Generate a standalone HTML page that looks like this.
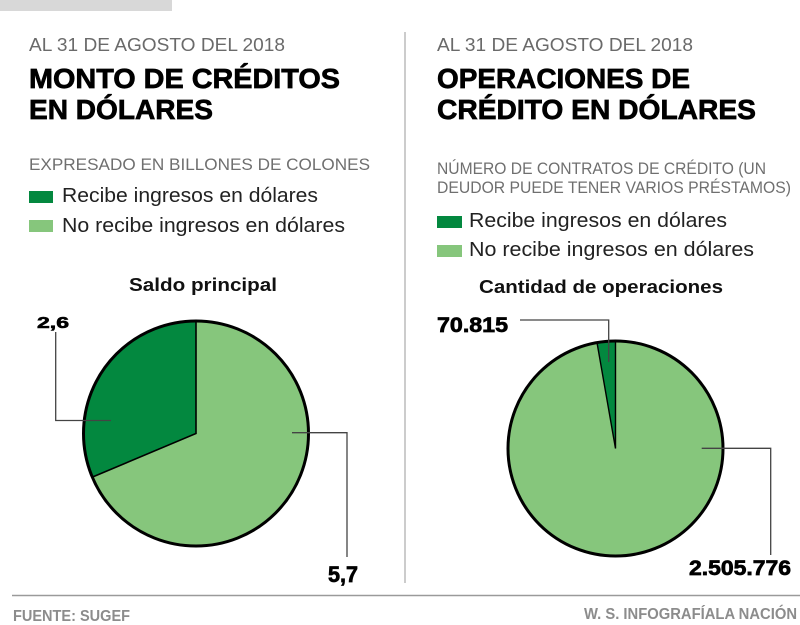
<!DOCTYPE html>
<html>
<head>
<meta charset="utf-8">
<style>
  html,body{margin:0;padding:0;background:#fff;}
  svg{display:block;}
  text{font-family:"Liberation Sans",sans-serif;}
</style>
</head>
<body>
<svg width="800" height="625" viewBox="0 0 800 625" xmlns="http://www.w3.org/2000/svg">
  <rect x="0" y="0" width="800" height="625" fill="#ffffff"/>
  <!-- top gray bar -->
  <rect x="0" y="0" width="172" height="11" fill="#d8d8d8"/>
  <!-- vertical separator -->
  <line x1="405" y1="32" x2="405" y2="583" stroke="#cccccc" stroke-width="2"/>
  <!-- footer line -->
  <line x1="12" y1="595.5" x2="800" y2="595.5" stroke="#9a9a9a" stroke-width="1.5"/>

  <!-- LEFT HEADER -->
  <text x="29" y="51" font-size="18.5" fill="#6a6a6a" textLength="256" lengthAdjust="spacingAndGlyphs">AL 31 DE AGOSTO DEL 2018</text>
  <text x="29" y="88" font-size="28" font-weight="bold" fill="#000" stroke="#000" stroke-width="0.7" textLength="311" lengthAdjust="spacingAndGlyphs">MONTO DE CRÉDITOS</text>
  <text x="29" y="119" font-size="28" font-weight="bold" fill="#000" stroke="#000" stroke-width="0.7" textLength="184" lengthAdjust="spacingAndGlyphs">EN DÓLARES</text>
  <text x="29" y="170" font-size="17" fill="#6f6f6f" textLength="341" lengthAdjust="spacingAndGlyphs">EXPRESADO EN BILLONES DE COLONES</text>
  <rect x="29" y="191" width="24" height="12" fill="#03883f"/>
  <text x="62" y="202" font-size="20" fill="#222" textLength="256" lengthAdjust="spacingAndGlyphs">Recibe ingresos en dólares</text>
  <rect x="29" y="220" width="24" height="12" fill="#86c67c"/>
  <text x="62" y="232" font-size="20" fill="#222" textLength="283" lengthAdjust="spacingAndGlyphs">No recibe ingresos en dólares</text>
  <text x="129" y="291" font-size="18" font-weight="bold" fill="#111" textLength="148" lengthAdjust="spacingAndGlyphs">Saldo principal</text>

  <!-- LEFT PIE -->
  <path d="M196,433.5 L92.3,477.1 A112.5,112.5 0 1 0 196,321 Z" fill="#86c67c"/>
  <path d="M196,433.5 L196,321 A112.5,112.5 0 0 0 92.3,477.1 Z" fill="#03883f"/>
  <polyline points="196,321 196,433.5 92.3,477.1" fill="none" stroke="#000" stroke-width="1.6"/>
  <circle cx="196" cy="433.5" r="112.5" fill="none" stroke="#000" stroke-width="3"/>
  <polyline points="55.7,332 55.7,420.5 111,420.5" fill="none" stroke="#444" stroke-width="1.3"/>
  <polyline points="292,432.7 347,432.7 347,557" fill="none" stroke="#444" stroke-width="1.3"/>
  <text x="37" y="328" font-size="16" font-weight="bold" fill="#000" stroke="#000" stroke-width="0.6" textLength="32" lengthAdjust="spacingAndGlyphs">2,6</text>
  <text x="328" y="582" font-size="22" font-weight="bold" fill="#000" stroke="#000" stroke-width="0.7" textLength="30" lengthAdjust="spacingAndGlyphs">5,7</text>

  <!-- RIGHT HEADER -->
  <text x="437" y="51" font-size="18.5" fill="#6a6a6a" textLength="256" lengthAdjust="spacingAndGlyphs">AL 31 DE AGOSTO DEL 2018</text>
  <text x="437" y="88" font-size="28" font-weight="bold" fill="#000" stroke="#000" stroke-width="0.7" textLength="253" lengthAdjust="spacingAndGlyphs">OPERACIONES DE</text>
  <text x="437" y="119" font-size="28" font-weight="bold" fill="#000" stroke="#000" stroke-width="0.7" textLength="319" lengthAdjust="spacingAndGlyphs">CRÉDITO EN DÓLARES</text>
  <text x="437" y="174" font-size="17" fill="#6f6f6f" textLength="329" lengthAdjust="spacingAndGlyphs">NÚMERO DE CONTRATOS DE CRÉDITO (UN</text>
  <text x="437" y="193" font-size="17" fill="#6f6f6f" textLength="354" lengthAdjust="spacingAndGlyphs">DEUDOR PUEDE TENER VARIOS PRÉSTAMOS)</text>
  <rect x="437" y="216" width="25" height="12" fill="#03883f"/>
  <text x="469" y="227" font-size="20" fill="#222" textLength="258" lengthAdjust="spacingAndGlyphs">Recibe ingresos en dólares</text>
  <rect x="437" y="245" width="25" height="12" fill="#86c67c"/>
  <text x="469" y="256" font-size="20" fill="#222" textLength="285" lengthAdjust="spacingAndGlyphs">No recibe ingresos en dólares</text>
  <text x="479" y="293" font-size="18" font-weight="bold" fill="#111" textLength="244" lengthAdjust="spacingAndGlyphs">Cantidad de operaciones</text>

  <!-- RIGHT PIE -->
  <path d="M615.5,448.5 L597,342.6 A107.5,107.5 0 1 0 615.5,341 Z" fill="#86c67c"/>
  <path d="M615.5,448.5 L615.5,341 A107.5,107.5 0 0 0 597,342.6 Z" fill="#03883f"/>
  <polyline points="615.5,341 615.5,448.5 597,342.6" fill="none" stroke="#000" stroke-width="1.4"/>
  <circle cx="615.5" cy="448.5" r="107.5" fill="none" stroke="#000" stroke-width="3"/>
  <polyline points="520,320 608.7,320 608.7,362" fill="none" stroke="#444" stroke-width="1.3"/>
  <polyline points="701.7,448.3 770.7,448.3 770.7,555" fill="none" stroke="#444" stroke-width="1.3"/>
  <text x="437" y="332" font-size="21" font-weight="bold" fill="#000" stroke="#000" stroke-width="0.7" textLength="71" lengthAdjust="spacingAndGlyphs">70.815</text>
  <text x="689" y="575" font-size="21" font-weight="bold" fill="#000" stroke="#000" stroke-width="0.7" textLength="102" lengthAdjust="spacingAndGlyphs">2.505.776</text>

  <!-- FOOTER -->
  <text x="13" y="621" font-size="16" font-weight="bold" fill="#8c8c8c" textLength="117" lengthAdjust="spacingAndGlyphs">FUENTE: SUGEF</text>
  <text x="584" y="619" font-size="16" font-weight="bold" fill="#8c8c8c" textLength="213" lengthAdjust="spacingAndGlyphs">W. S. INFOGRAFÍALA NACIÓN</text>
</svg>
</body>
</html>
